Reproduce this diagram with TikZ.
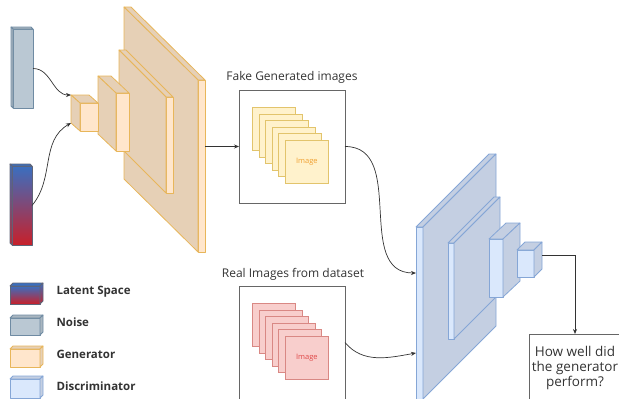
\documentclass[tikz,border=0pt]{standalone}
\usepackage{fontspec}
\setmainfont{Open Sans}
\usetikzlibrary{arrows.meta}

\definecolor{genfront}{HTML}{FFE6CC}
\definecolor{genside}{HTML}{E6D0B6}
\definecolor{genline}{HTML}{E8B65A}
\definecolor{disfront}{HTML}{DAE8FC}
\definecolor{disside}{HTML}{C4CFE2}
\definecolor{disline}{HTML}{85A6D6}
\definecolor{noisefill}{HTML}{BAC8D3}
\definecolor{noiseside}{HTML}{A9B6C0}
\definecolor{noiseline}{HTML}{6F8BA3}
\definecolor{latenttop}{HTML}{3A6FC0}
\definecolor{latentbot}{HTML}{C8202A}
\definecolor{latentline}{HTML}{5E6478}
\definecolor{fakefill}{HTML}{FFF2CC}
\definecolor{fakeline}{HTML}{E2C46C}
\definecolor{faketext}{HTML}{F0A030}
\definecolor{realfill}{HTML}{F8CECC}
\definecolor{realline}{HTML}{D98884}
\definecolor{realtext}{HTML}{E04848}
\definecolor{frameline}{HTML}{666666}
\definecolor{ink}{HTML}{333333}

\tikzset{
  layer/.style={line width=0.8pt, line join=round, inner sep=0pt, outer sep=0pt},
  gen front/.style={layer, fill=genfront, draw=genline},
  gen top/.style={layer, fill=genside, draw=genline},
  gen side/.style={layer, fill=genside, draw=genline},
  dis front/.style={layer, fill=disfront, draw=disline},
  dis top/.style={layer, fill=disside, draw=disline},
  dis side/.style={layer, fill=disside, draw=disline},
  noise front/.style={layer, fill=noisefill, draw=noiseline},
  noise top/.style={layer, fill=noiseside, draw=noiseline},
  noise side/.style={layer, fill=noiseside, draw=noiseline},
  latent front/.style={layer, top color=latenttop, bottom color=latentbot, draw=latentline},
  latent top/.style={layer, fill=latenttop, draw=latentline},
  latent side/.style={layer, top color=latenttop, bottom color=latentbot, draw=latentline},
  frame/.style={draw=frameline, line width=0.8pt, inner sep=0pt, outer sep=0pt},
  fake img/.style={fill=fakefill, draw=fakeline, line width=0.7pt, minimum size=43pt,
                   anchor=north west, inner sep=0pt},
  real img/.style={fill=realfill, draw=realline, line width=0.7pt, minimum size=43pt,
                   anchor=north west, inner sep=0pt},
  caption/.style={text=ink, font=\fontsize{12}{14}\selectfont},
  key text/.style={text=ink, anchor=west, font=\fontsize{11.5}{13}\selectfont\bfseries},
  link/.style={draw=ink, line width=0.7pt, -{Stealth[length=5pt,width=4pt]}}
}

% cuboid: name, style, x, y (front top left), width, height, depth x, depth y, side
\newcommand{\layer}[9]{%
  \node[#2 front, anchor=north west, minimum width=#5pt, minimum height=#6pt] (#1) at (#3,#4) {};
  \path (#1.north #9) ++(#7,#8) coordinate (#1-bt) ++(0,#6) coordinate (#1-bb);
  \draw[#2 top] (#1.north west) -- ++(#7,#8) -- ++(#5,0) -- (#1.north east) -- cycle;
  \draw[#2 side] (#1.north #9) -- (#1-bt) -- (#1-bb) -- (#1.south #9) -- cycle;
}

\begin{document}
\begin{tikzpicture}[x=1pt, y=-1pt]
  \useasboundingbox (0,0) rectangle (619,399);

  % inputs
  \layer{noise}{noise}{13}{29}{20}{79}{-2}{-2}{west}
  \layer{latent}{latent}{12}{166}{20}{79}{-2}{-2}{west}

  % generator
  \layer{g4}{gen}{198}{80}{7}{172}{-74}{-73}{west}
  \layer{g3}{gen}{166}{97}{7}{96}{-47}{-47}{west}
  \layer{g2}{gen}{116}{93}{13}{58}{-18}{-17}{west}
  \layer{g1}{gen}{80}{103}{18}{28}{-9}{-8}{west}

  % image sets
  \node[caption] (fakelabel) at (292,77) {Fake Generated images};
  \node[frame, anchor=north west, minimum width=106pt, minimum height=113pt] (fakebox) at (239,90) {};
  \foreach \i in {0,...,5}
    \node[fake img] (fake\i) at (252+6.6*\i, 107+6.6*\i) {};
  \node[text=faketext, font=\fontsize{7.5}{8}\selectfont] at (fake5) {Image};

  \node[caption] (reallabel) at (293,274) {Real Images from dataset};
  \node[frame, anchor=north west, minimum width=106pt, minimum height=113pt] (realbox) at (239,286) {};
  \foreach \i in {0,...,5}
    \node[real img] (real\i) at (252+6.6*\i, 303+6.6*\i) {};
  \node[text=realtext, font=\fontsize{7.5}{8}\selectfont] at (real5) {Image};

  % discriminator
  \layer{d1}{dis}{416}{227}{7}{172}{73}{-73}{east}
  \layer{d2}{dis}{448}{243}{6}{96}{46}{-46}{east}
  \layer{d3}{dis}{489}{239}{14}{58}{17}{-16}{east}
  \layer{d4}{dis}{517}{250}{17}{27}{8}{-8}{east}

  \node[frame, anchor=north west, minimum width=92pt, minimum height=68pt, align=center,
        text=ink, font=\fontsize{13.5}{15}\selectfont] (judge) at (529,334)
        {How well did\\the generator\\perform?};

  % connectors
  \draw[link] (noise.east) to[out=0, in=180] (g1-bt);
  \draw[link] (latent.east) to[out=50, in=210] (g1-bb);
  \draw[link] (g4.east |- fakebox.west) -- (fakebox.west);
  \draw[link] (fakebox.east) to[out=0, in=180, looseness=1.1] ([yshift=40pt]d1.west);
  \draw[link] (realbox.east) to[out=-50, in=190] ([yshift=-40pt]d1.west);
  \draw[link] ([yshift=-13pt]d4-bt) -| (judge.north);

  % legend
  \layer{keylatent}{latent}{10}{286}{30}{18}{3}{-3}{east}
  \layer{keynoise}{noise}{10}{318}{30}{17}{3}{-3}{east}
  \layer{keygen}{gen}{10}{349}{30}{18}{3}{-3}{east}
  \layer{keydis}{dis}{10}{379}{30}{19}{3}{-3}{east}
  \node[key text] (keylatenttext) at (53,292) {Latent Space};
  \node[key text] (keynoisetext) at (53,322) {Noise};
  \node[key text] (keygentext) at (53,354) {Generator};
  \node[key text] (keydistext) at (53,386) {Discriminator};
\end{tikzpicture}
\end{document}
